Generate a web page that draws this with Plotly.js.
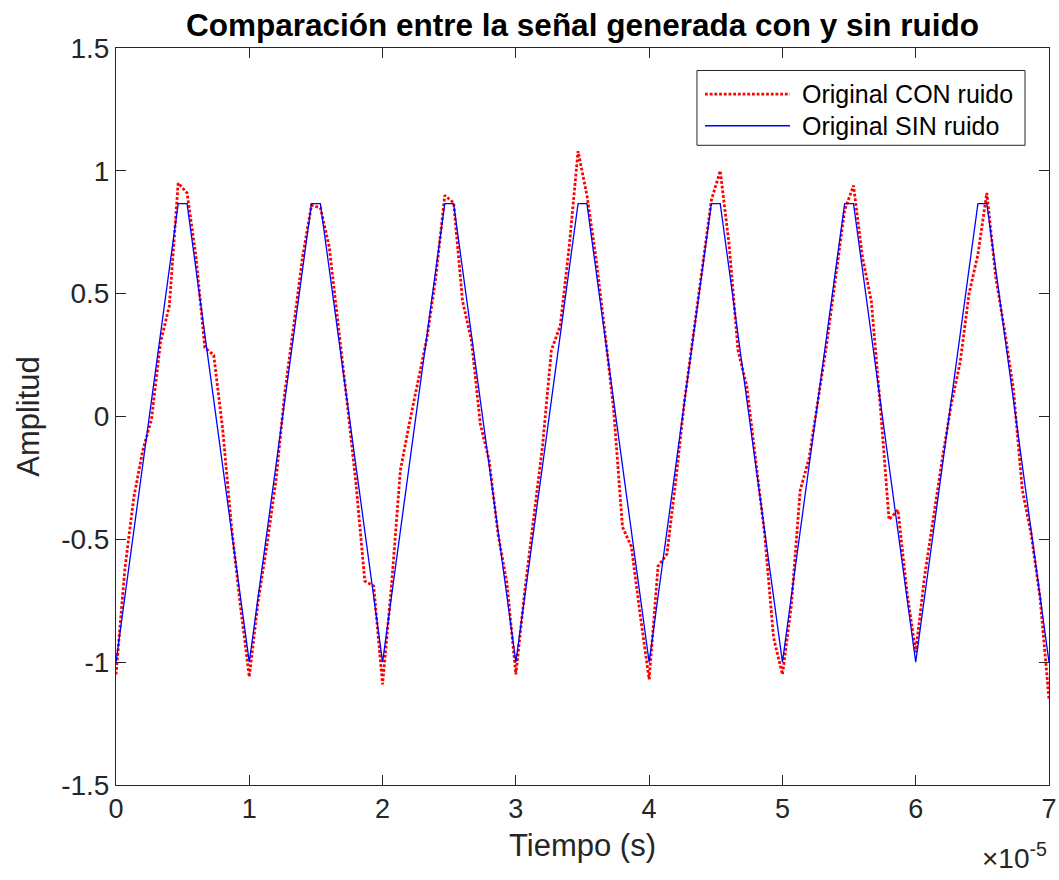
<!DOCTYPE html>
<html>
<head>
<meta charset="utf-8">
<script src="https://cdn.plot.ly/plotly-3.0.1.min.js"></script>
<style>
  html, body { margin: 0; padding: 0; background: #ffffff; }
  #grafica { width: 1059px; height: 880px; }
</style>
</head>
<body>
<div id="grafica"></div>
<script>
// Instantes de muestreo, en unidades de 1e-5 s (15 muestras por periodo)
const tiempo = [
  0, 0.0667, 0.1333, 0.2, 0.2667, 0.3333, 0.4, 0.4667, 0.5333, 0.6, 0.6667, 0.7333, 0.8, 0.8667, 0.9333,
  1, 1.0667, 1.1333, 1.2, 1.2667, 1.3333, 1.4, 1.4667, 1.5333, 1.6, 1.6667, 1.7333, 1.8, 1.8667, 1.9333,
  2, 2.0667, 2.1333, 2.2, 2.2667, 2.3333, 2.4, 2.4667, 2.5333, 2.6, 2.6667, 2.7333, 2.8, 2.8667, 2.9333,
  3, 3.0667, 3.1333, 3.2, 3.2667, 3.3333, 3.4, 3.4667, 3.5333, 3.6, 3.6667, 3.7333, 3.8, 3.8667, 3.9333,
  4, 4.0667, 4.1333, 4.2, 4.2667, 4.3333, 4.4, 4.4667, 4.5333, 4.6, 4.6667, 4.7333, 4.8, 4.8667, 4.9333,
  5, 5.0667, 5.1333, 5.2, 5.2667, 5.3333, 5.4, 5.4667, 5.5333, 5.6, 5.6667, 5.7333, 5.8, 5.8667, 5.9333,
  6, 6.0667, 6.1333, 6.2, 6.2667, 6.3333, 6.4, 6.4667, 6.5333, 6.6, 6.6667, 6.7333, 6.8, 6.8667, 6.9333,
  7
];

// Señal triangular muestreada, sin ruido
const senalSinRuido = [
  -1, -0.7333, -0.4667, -0.2, 0.0667, 0.3333, 0.6, 0.8667, 0.8667, 0.6, 0.3333, 0.0667, -0.2, -0.4667, -0.7333,
  -1, -0.7333, -0.4667, -0.2, 0.0667, 0.3333, 0.6, 0.8667, 0.8667, 0.6, 0.3333, 0.0667, -0.2, -0.4667, -0.7333,
  -1, -0.7333, -0.4667, -0.2, 0.0667, 0.3333, 0.6, 0.8667, 0.8667, 0.6, 0.3333, 0.0667, -0.2, -0.4667, -0.7333,
  -1, -0.7333, -0.4667, -0.2, 0.0667, 0.3333, 0.6, 0.8667, 0.8667, 0.6, 0.3333, 0.0667, -0.2, -0.4667, -0.7333,
  -1, -0.7333, -0.4667, -0.2, 0.0667, 0.3333, 0.6, 0.8667, 0.8667, 0.6, 0.3333, 0.0667, -0.2, -0.4667, -0.7333,
  -1, -0.7333, -0.4667, -0.2, 0.0667, 0.3333, 0.6, 0.8667, 0.8667, 0.6, 0.3333, 0.0667, -0.2, -0.4667, -0.7333,
  -1, -0.7333, -0.4667, -0.2, 0.0667, 0.3333, 0.6, 0.8667, 0.8667, 0.6, 0.3333, 0.0667, -0.2, -0.4667, -0.7333,
  -1
];

// La misma señal con ruido añadido
const senalConRuido = [
  -1.05, -0.62, -0.33, -0.14, -0.01, 0.30, 0.45, 0.95, 0.91, 0.65, 0.28, 0.25, -0.05, -0.45, -0.77,
  -1.06, -0.75, -0.52, -0.26, 0.10, 0.37, 0.65, 0.86, 0.85, 0.69, 0.38, 0.06, -0.27, -0.67, -0.69,
  -1.09, -0.69, -0.22, -0.03, 0.14, 0.32, 0.57, 0.90, 0.87, 0.47, 0.31, -0.03, -0.18, -0.48, -0.68,
  -1.05, -0.71, -0.42, -0.12, 0.27, 0.37, 0.69, 1.08, 0.90, 0.65, 0.35, 0.03, -0.45, -0.53, -0.81,
  -1.07, -0.61, -0.56, -0.26, 0.07, 0.34, 0.62, 0.88, 1.00, 0.70, 0.27, 0.12, -0.18, -0.48, -0.90,
  -1.05, -0.77, -0.30, -0.17, 0.07, 0.30, 0.57, 0.84, 0.94, 0.65, 0.47, 0.05, -0.42, -0.38, -0.71,
  -0.96, -0.65, -0.40, -0.17, 0.05, 0.22, 0.50, 0.66, 0.91, 0.57, 0.35, 0.11, -0.30, -0.48, -0.74,
  -1.15
];

const ticksX = [0, 1, 2, 3, 4, 5, 6, 7];
const etiquetasX = ['0', '1', '2', '3', '4', '5', '6', '7'];
const ticksY = [-1.5, -1, -0.5, 0, 0.5, 1, 1.5];
const etiquetasY = ['-1.5', '-1', '-0.5', '0', '0.5', '1', '1.5'];

const nombres = ['Original CON ruido', 'Original SIN ruido'];

const fuente = 'Liberation Sans, Arial, Helvetica, sans-serif';
const gris = '#262626';
const rojo = '#ff0000';
const azul = '#0000ff';

const trazas = [
  {
    x: tiempo, y: senalConRuido, name: nombres[0], type: 'scatter', mode: 'lines',
    line: { color: rojo, width: 2.8, dash: '2.8px,1.9px' }
  },
  {
    x: tiempo, y: senalSinRuido, name: nombres[1], type: 'scatter', mode: 'lines',
    line: { color: azul, width: 1.3 }
  }
];

// Leyenda dibujada a mano (recuadro, muestras de línea y textos)
const leyenda = { x0: 0.6227, x1: 0.9743, y0: 0.868, y1: 0.9695 };
const formas = [
  { type: 'rect', xref: 'paper', yref: 'paper', x0: leyenda.x0, x1: leyenda.x1, y0: leyenda.y0, y1: leyenda.y1,
    line: { color: gris, width: 1 }, fillcolor: '#ffffff', layer: 'above' },
  { type: 'line', xref: 'paper', yref: 'paper', x0: 0.6313, x1: 0.7224, y0: 0.9375, y1: 0.9375,
    line: { color: rojo, width: 2.8, dash: '2.8px,1.9px' }, layer: 'above' },
  { type: 'line', xref: 'paper', yref: 'paper', x0: 0.6313, x1: 0.7224, y0: 0.8945, y1: 0.8945,
    line: { color: azul, width: 1.3 }, layer: 'above' }
];

const anotaciones = [
  { xref: 'paper', yref: 'paper', x: 0.7331, y: 0.9375, xanchor: 'left', yanchor: 'middle', showarrow: false,
    text: nombres[0], font: { family: fuente, size: 25, color: '#000000' } },
  { xref: 'paper', yref: 'paper', x: 0.7331, y: 0.8945, xanchor: 'left', yanchor: 'middle', showarrow: false,
    text: nombres[1], font: { family: fuente, size: 25, color: '#000000' } },
  // Título del eje x
  { xref: 'paper', yref: 'paper', x: 0.5, y: -0.0556, xanchor: 'center', yanchor: 'top', showarrow: false,
    text: 'Tiempo (s)', font: { family: fuente, size: 31, color: gris } },
  // Factor de escala del eje x
  { xref: 'paper', yref: 'paper', x: 1.0, y: -0.069, xanchor: 'right', yanchor: 'top', showarrow: false,
    text: '×10<sup>-5</sup>', font: { family: fuente, size: 28, color: gris } }
];

const layout = {
  width: 1059, height: 880,
  margin: { l: 116, r: 10, t: 48, b: 95, pad: 0 },
  paper_bgcolor: '#ffffff', plot_bgcolor: '#ffffff',
  showlegend: false,
  font: { family: fuente, color: gris },
  title: {
    text: '<b>Comparación entre la señal generada con y sin ruido</b>',
    font: { family: fuente, size: 31.5, color: '#000000' },
    x: 0.5, xref: 'paper', y: 0.972, yref: 'container', yanchor: 'middle'
  },
  xaxis: {
    range: [0, 7], tickvals: ticksX, ticktext: etiquetasX,
    ticks: 'inside', ticklen: 10, tickwidth: 1, tickcolor: gris,
    showline: true, linecolor: gris, linewidth: 1, mirror: 'ticks',
    showgrid: false, zeroline: false,
    tickfont: { family: fuente, size: 27, color: gris }
  },
  yaxis: {
    range: [-1.5, 1.5], tickvals: ticksY, ticktext: etiquetasY,
    ticks: 'inside', ticklen: 10, tickwidth: 1, tickcolor: gris,
    showline: true, linecolor: gris, linewidth: 1, mirror: 'ticks',
    showgrid: false, zeroline: false,
    tickfont: { family: fuente, size: 28, color: gris },
    title: { text: 'Amplitud', font: { family: fuente, size: 31, color: gris }, standoff: 12 }
  },
  shapes: formas,
  annotations: anotaciones
};

Plotly.newPlot('grafica', trazas, layout, { displayModeBar: false, responsive: false });
</script>
</body>
</html>
